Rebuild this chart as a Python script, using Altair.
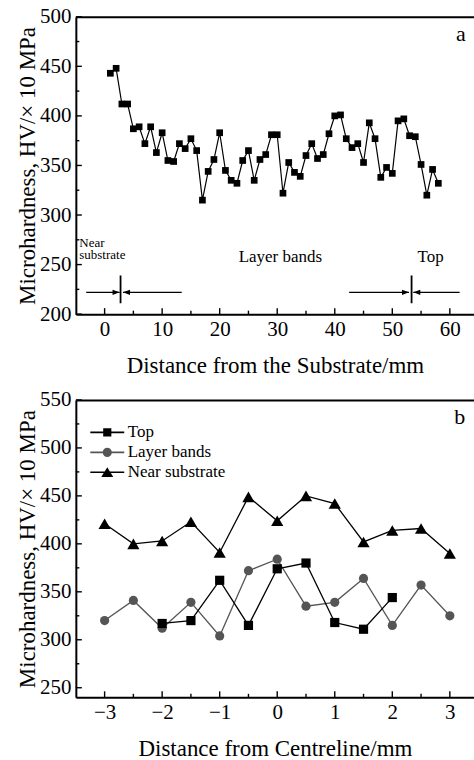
import altair as alt
import pandas as pd

FONT = "Liberation Serif"
W, H = 399, 298

# ---------------- panel a : microhardness along the build ----------------
dist_a = [1, 2, 3, 4, 5, 6, 7, 8, 9, 10, 11, 12, 13, 14, 15, 16, 17, 18, 19, 20,
          21, 22, 23, 24, 25, 26, 27, 28, 29, 30, 31, 32, 33, 34, 35, 36, 37, 38, 39, 40,
          41, 42, 43, 44, 45, 46, 47, 48, 49, 50, 51, 52, 53, 54, 55, 56, 57, 58]
hard_a = [443, 448, 412, 412, 387, 389, 372, 389, 363, 383, 355, 354, 372, 367, 377, 365,
          315, 344, 356, 383, 345, 335, 332, 355, 365, 335, 356, 361, 381, 381, 322, 353,
          343, 339, 360, 372, 357, 361, 382, 400, 401, 377, 368, 372, 353, 393, 377, 338,
          348, 342, 395, 397, 380, 379, 351, 320, 346, 332]

xa_domain = [-5, 64.2]
ya_domain = [200, 500]
xa_major = [0, 10, 20, 30, 40, 50, 60]
xa_minor = [5, 15, 25, 35, 45, 55]
ya_major = [200, 250, 300, 350, 400, 450, 500]
ya_minor = [225, 275, 325, 375, 425, 475]

# region markers (arrows) in data units
arrow_x1 = [-3.2, 13.4, 42.5, 61.7]
arrow_x2 = [2.6, 3.2, 52.9, 53.65]
arrow_y = [222, 222, 222, 222]
arrow_dir = ["right", "left", "right", "left"]
bar_x = [2.77, 53.35]
bar_y1 = [211, 211]
bar_y2 = [239, 239]

small_note = ["Near", "substrate"]
small_note_x = [-4.4, -4.4]
small_note_y = [268, 255.3]
big_note = ["Layer bands", "Top"]
big_note_x = [30.55, 56.65]
big_note_y = [253, 253]
panel_a_label = ["a"]
panel_a_label_x = [61.9]
panel_a_label_y = [476]

# ---------------- panel b : across the wall ----------------
series = ["Top", "Layer bands", "Near substrate"]
series_colors = ["black", "#555555", "black"]
x_b = [-3, -2.5, -2, -1.5, -1, -0.5, 0, 0.5, 1, 1.5, 2, 2.5, 3]
near_b = [421, 400, 403, 423, 391, 449, 424, 450, 442, 402, 414, 416, 390]
layer_b = [320, 341, 312, 339, 304, 372, 384, 335, 339, 364, 315, 357, 325]
top_x_b = [-2, -1.5, -1, -0.5, 0, 0.5, 1, 1.5, 2]
top_b = [317, 320, 362, 315, 374, 380, 318, 311, 344]

xb_domain = [-3.5, 3.42]
yb_domain = [240, 550]
xb_major = [-3, -2, -1, 0, 1, 2, 3]
xb_minor = [-2.5, -1.5, -0.5, 0.5, 1.5, 2.5]
yb_major = [250, 300, 350, 400, 450, 500, 550]
yb_minor = [275, 325, 375, 425, 475, 525]
panel_b_label = ["b"]
panel_b_label_x = [3.17]
panel_b_label_y = [525]

Y_TITLE = "Microhardness, HV/\u00d7 10 MPa"

# legend symbols: one closed outline = short line with the marker in the middle
leg_square = ("M -1.79 -0.085 L -0.43 -0.085 L -0.43 -0.43 L 0.43 -0.43 L 0.43 -0.085 "
              "L 1.79 -0.085 L 1.79 0.085 L 0.43 0.085 L 0.43 0.43 L -0.43 0.43 "
              "L -0.43 0.085 L -1.79 0.085 Z")
leg_circle = ("M -1.79 -0.085 L -0.472 -0.085 A 0.48 0.48 0 0 1 0.472 -0.085 "
              "L 1.79 -0.085 L 1.79 0.085 L 0.472 0.085 A 0.48 0.48 0 0 1 -0.472 0.085 "
              "L -1.79 0.085 Z")
leg_tri = ("M -1.79 -0.085 L -0.272 -0.085 L 0 -0.53 L 0.272 -0.085 L 1.79 -0.085 "
           "L 1.79 0.085 L 0.376 0.085 L 0.63 0.5 L -0.63 0.5 L -0.376 0.085 "
           "L -1.79 0.085 Z")
legend_paths = [leg_square, leg_circle, leg_tri]

head_right = "M0,0L-2,-0.75L-2,0.75Z"
head_left = "M0,0L2,-0.75L2,0.75Z"


def axis_props(**kw):
    base = dict(labelFont=FONT, labelFontSize=21, titleFont=FONT, titleFontSize=23,
                titleFontWeight="normal", labelColor="black", titleColor="black",
                domainColor="black", domainWidth=2, ticks=False, tickSize=0, grid=False)
    base.update(kw)
    return alt.Axis(**base)


def make_panel(xs, ys, x_title, y_vals, x_vals, x_minor, y_minor, layers_fn):
    y_axis = axis_props(orient="left", title=Y_TITLE, values=y_vals, labelPadding=5, titlePadding=0)
    x_axis = axis_props(orient="bottom", title=x_title, values=x_vals, labelPadding=4, titlePadding=15)
    top_axis = alt.Axis(orient="top", labels=False, ticks=False, tickSize=0, title=None, domain=True,
                        domainColor="black", domainWidth=2, grid=False)

    def X(field, axis=None):
        return alt.X(field, scale=xs, axis=axis)

    def Y(field):
        return alt.Y(field, scale=ys, axis=y_axis)

    layers = layers_fn(X, Y, x_axis)
    # inward ticks
    for vals, ln, ax in [(x_vals, 6, top_axis), (x_minor, 3.5, None)]:
        layers.append(alt.Chart(pd.DataFrame({"v": vals})).mark_rule(color="black", strokeWidth=1.4).encode(
            x=X("v:Q", ax), y=alt.value(H), y2=alt.value(H - ln)))
    for vals, ln in [(y_vals, 6), (y_minor, 3.5)]:
        layers.append(alt.Chart(pd.DataFrame({"v": vals})).mark_rule(color="black", strokeWidth=1.4).encode(
            y=Y("v:Q"), x=alt.value(0), x2=alt.value(ln)))
    return alt.layer(*layers).resolve_axis(x="independent").properties(width=W, height=H)


# ---------- panel a ----------
xa = alt.Scale(domain=xa_domain, nice=False, zero=False)
ya = alt.Scale(domain=ya_domain, nice=False, zero=False)


def layers_a(X, Y, x_axis):
    df_a = pd.DataFrame({"d": dist_a, "hv": hard_a})
    line_a = alt.Chart(df_a).mark_line(color="black", strokeWidth=1.2).encode(
        x=X("d:Q", x_axis), y=Y("hv:Q"))
    pts_a = alt.Chart(df_a).mark_point(shape="square", filled=True, color="black", size=45, opacity=1).encode(
        x=X("d:Q"), y=Y("hv:Q"))
    df_arrow = pd.DataFrame({"x1": arrow_x1, "x2": arrow_x2, "y": arrow_y, "dir": arrow_dir})
    arrow_lines = alt.Chart(df_arrow).mark_rule(color="black", strokeWidth=1.3).encode(
        x=X("x1:Q"), x2="x2:Q", y=Y("y:Q"))
    heads_r = alt.Chart(df_arrow).transform_filter("datum.dir == 'right'").mark_point(
        shape=head_right, filled=True, color="black", size=49, opacity=1, strokeWidth=0).encode(
        x=X("x2:Q"), y=Y("y:Q"))
    heads_l = alt.Chart(df_arrow).transform_filter("datum.dir == 'left'").mark_point(
        shape=head_left, filled=True, color="black", size=49, opacity=1, strokeWidth=0).encode(
        x=X("x2:Q"), y=Y("y:Q"))
    df_bar = pd.DataFrame({"x": bar_x, "y1": bar_y1, "y2": bar_y2})
    bars = alt.Chart(df_bar).mark_rule(color="black", strokeWidth=1.8).encode(
        x=X("x:Q"), y=Y("y1:Q"), y2="y2:Q")
    notes_small = alt.Chart(pd.DataFrame({"t": small_note, "x": small_note_x, "y": small_note_y})).mark_text(
        font=FONT, fontSize=13, align="left", baseline="alphabetic", color="black").encode(
        x=X("x:Q"), y=Y("y:Q"), text="t:N")
    notes_big = alt.Chart(pd.DataFrame({"t": big_note, "x": big_note_x, "y": big_note_y})).mark_text(
        font=FONT, fontSize=17, align="center", baseline="alphabetic", color="black").encode(
        x=X("x:Q"), y=Y("y:Q"), text="t:N")
    label_a = alt.Chart(pd.DataFrame({"t": panel_a_label, "x": panel_a_label_x, "y": panel_a_label_y})).mark_text(
        font=FONT, fontSize=22, align="center", baseline="alphabetic", color="black").encode(
        x=X("x:Q"), y=Y("y:Q"), text="t:N")
    return [line_a, pts_a, arrow_lines, heads_r, heads_l, bars, notes_small, notes_big, label_a]


chart_a = make_panel(xa, ya, "Distance from the Substrate/mm", ya_major, xa_major, xa_minor, ya_minor, layers_a)

# ---------- panel b ----------
xb = alt.Scale(domain=xb_domain, nice=False, zero=False)
yb = alt.Scale(domain=yb_domain, nice=False, zero=False)


def layers_b(X, Y, x_axis):
    df_near = pd.DataFrame({"x": x_b, "hv": near_b})
    df_layer = pd.DataFrame({"x": x_b, "hv": layer_b})
    df_top = pd.DataFrame({"x": top_x_b, "hv": top_b})
    near_line = alt.Chart(df_near).mark_line(color=series_colors[2], strokeWidth=1.3).encode(
        x=X("x:Q", x_axis), y=Y("hv:Q"))
    layer_line = alt.Chart(df_layer).mark_line(color=series_colors[1], strokeWidth=1.3).encode(
        x=X("x:Q"), y=Y("hv:Q"))
    top_line = alt.Chart(df_top).mark_line(color=series_colors[0], strokeWidth=1.3).encode(
        x=X("x:Q"), y=Y("hv:Q"))
    near_pts = alt.Chart(df_near).mark_point(shape="triangle-up", filled=True, color=series_colors[2],
                                             size=150, opacity=1).encode(x=X("x:Q"), y=Y("hv:Q"))
    layer_pts = alt.Chart(df_layer).mark_point(shape="circle", filled=True, color=series_colors[1],
                                               size=85, opacity=1).encode(x=X("x:Q"), y=Y("hv:Q"))
    top_pts = alt.Chart(df_top).mark_point(shape="square", filled=True, color=series_colors[0],
                                           size=85, opacity=1).encode(x=X("x:Q"), y=Y("hv:Q"))
    leg = alt.Legend(title=None, orient="none", legendX=22, legendY=23, padding=0,
                     labelFont=FONT, labelFontSize=17, labelColor="black", labelLimit=300,
                     labelOffset=11, symbolSize=361, symbolStrokeWidth=0, rowPadding=2)
    legend_layer = alt.Chart(pd.DataFrame({"series": series})).transform_filter("false").mark_point(
        filled=True, opacity=1).encode(
        color=alt.Color("series:N", scale=alt.Scale(domain=series, range=series_colors), legend=leg),
        shape=alt.Shape("series:N", scale=alt.Scale(domain=series, range=legend_paths), legend=leg))
    label_b = alt.Chart(pd.DataFrame({"t": panel_b_label, "x": panel_b_label_x, "y": panel_b_label_y})).mark_text(
        font=FONT, fontSize=22, align="center", baseline="alphabetic", color="black").encode(
        x=X("x:Q"), y=Y("y:Q"), text="t:N")
    return [near_line, layer_line, top_line, near_pts, layer_pts, top_pts, legend_layer, label_b]


chart_b = make_panel(xb, yb, "Distance from Centreline/mm", yb_major, xb_major, xb_minor, yb_minor, layers_b)

chart = alt.vconcat(chart_a, chart_b, spacing=12).resolve_legend(
    color="independent", shape="independent"
).properties(
    padding={"left": 16, "top": 5, "right": 0, "bottom": 0},
    background="white",
).configure_view(stroke=None)

chart.save("out.html", embed_options={"renderer": "svg", "actions": False})
